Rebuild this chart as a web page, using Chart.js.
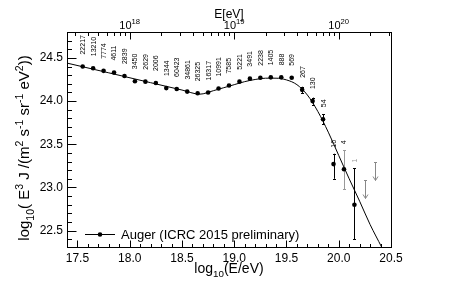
<!DOCTYPE html>
<html>
<head>
<meta charset="utf-8">
<script src="https://cdn.jsdelivr.net/npm/chart.js@4.4.0/dist/chart.umd.min.js"></script>
<style>
  html, body { margin: 0; padding: 0; background: #fff; }
</style>
</head>
<body>
<canvas id="spectrum" width="459" height="291"></canvas>
<script>
// Auger combined spectrum (ICRC 2015 preliminary)

const logE = [17.55, 17.65, 17.75, 17.85, 17.95, 18.05, 18.15, 18.25, 18.35, 18.45,
              18.55, 18.65, 18.75, 18.85, 18.95, 19.05, 19.15, 19.25, 19.35, 19.45,
              19.55, 19.65, 19.75, 19.85, 19.95, 20.05, 20.15];
const fluxE3 = [24.40, 24.38, 24.35, 24.33, 24.29, 24.23, 24.225, 24.21, 24.15, 24.14,
                24.11, 24.09, 24.10, 24.145, 24.18, 24.225, 24.26, 24.27, 24.275, 24.275,
                24.27, 24.13, 24.00, 23.79, 23.27, 23.21, 22.80];
const errUp = [0.004, 0.005, 0.006, 0.008, 0.01, 0.008, 0.009, 0.01, 0.012, 0.003,
               0.004, 0.004, 0.005, 0.006, 0.007, 0.008, 0.01, 0.012, 0.016, 0.02,
               0.025, 0.036, 0.04, 0.06, 0.12, 0.22, 0.42];
const errDown = [0.004, 0.005, 0.006, 0.008, 0.01, 0.008, 0.009, 0.01, 0.012, 0.003,
                 0.004, 0.004, 0.005, 0.006, 0.007, 0.008, 0.01, 0.012, 0.016, 0.02,
                 0.025, 0.036, 0.04, 0.06, 0.17, 0.23, 0.40];
const nEvents = ['22217', '13210', '7774', '4611', '2839', '3450', '2629', '2006', '1344', '60423',
                 '34861', '26325', '16317', '10991', '7585', '5221', '3491', '2238', '1405', '888',
                 '569', '267', '130', '54', '16', '4', '1'];

// 84% C.L. upper limits
const limitE = [20.25, 20.35];
const limitFlux = [23.09, 23.29];

// fitted spectrum
const fitE = [17.4, 17.8, 18.2, 18.5, 18.67, 18.8, 18.9, 19.0, 19.1, 19.2, 19.3, 19.4, 19.5,
              19.6, 19.7, 19.8, 19.9, 20.0, 20.1, 20.2, 20.3, 20.41];
const fitFlux = [24.44, 24.327, 24.213, 24.128, 24.08, 24.12, 24.155, 24.19, 24.225, 24.25, 24.265, 24.265, 24.245,
                 24.19, 24.07, 23.88, 23.64, 23.37, 23.10, 22.84, 22.57, 22.31];

const xTicks = [17.5, 18, 18.5, 19, 19.5, 20, 20.5];
const yTicks = [22.5, 23, 23.5, 24, 24.5];
const topTicks = [1e18, 1e19, 1e20];
const topTickExp = ['18', '19', '20'];

const FONT = '"Liberation Sans", Arial, Helvetica, sans-serif';

function drawRich(ctx, parts, x, y, size, align) {
  const fontOf = p => (p[1] ? size * 0.7 : size) + 'px ' + FONT;
  let w = 0;
  parts.forEach(p => { ctx.font = fontOf(p); w += ctx.measureText(p[0]).width; });
  let cx = align === 'center' ? x - w / 2 : x;
  parts.forEach(p => {
    ctx.font = fontOf(p);
    let dy = 0;
    if (p[1] === 'sup') dy = -size * 0.42;
    if (p[1] === 'sub') dy = size * 0.3;
    ctx.fillText(p[0], cx, y + dy);
    cx += ctx.measureText(p[0]).width;
  });
}

const rootStyle = {
  id: 'rootStyle',
  beforeDatasetsDraw(chart) {
    const ctx = chart.ctx, xs = chart.scales.x, ys = chart.scales.y;
    ctx.save();
    ctx.lineWidth = 1;
    // error bars
    logE.forEach((e, i) => {
      const px = Math.round(xs.getPixelForValue(e)) + 0.5;
      const top = ys.getPixelForValue(fluxE3[i] + errUp[i]);
      const bot = ys.getPixelForValue(fluxE3[i] - errDown[i]);
      if (bot - top < 5) return;
      ctx.strokeStyle = i === 25 ? '#999' : '#000';
      ctx.beginPath();
      ctx.moveTo(px, top); ctx.lineTo(px, bot);
      ctx.moveTo(px - 1.5, Math.round(top) + 0.5); ctx.lineTo(px + 1.5, Math.round(top) + 0.5);
      ctx.moveTo(px - 1.5, Math.round(bot) + 0.5); ctx.lineTo(px + 1.5, Math.round(bot) + 0.5);
      ctx.stroke();
    });
    // upper limits
    ctx.strokeStyle = '#888';
    limitE.forEach((e, i) => {
      const px = Math.round(xs.getPixelForValue(e)) + 0.5;
      const top = Math.round(ys.getPixelForValue(limitFlux[i])) + 0.5;
      const bot = top + 18;
      ctx.beginPath();
      ctx.moveTo(px - 1.5, top); ctx.lineTo(px + 1.5, top);
      ctx.moveTo(px, top); ctx.lineTo(px, bot);
      ctx.moveTo(px - 2.5, bot - 4); ctx.lineTo(px, bot); ctx.lineTo(px + 2.5, bot - 4);
      ctx.stroke();
    });
    ctx.restore();
  },
  afterDraw(chart) {
    const ctx = chart.ctx, a = chart.chartArea;
    const xs = chart.scales.x, ys = chart.scales.y, xt = chart.scales.x2;
    ctx.save();
    ctx.strokeStyle = '#000';
    ctx.fillStyle = '#000';
    ctx.lineWidth = 1;
    const L = Math.round(a.left) + 0.5, R = Math.round(a.right) + 0.5;
    const T = Math.round(a.top) + 0.5, B = Math.round(a.bottom) + 0.5;
    ctx.strokeRect(L, T, R - L, B - T);

    ctx.beginPath();
    // bottom axis ticks
    for (let k = 0; k <= 31; k++) {
      const v = 17.4 + k * 0.1;
      const px = Math.round(xs.getPixelForValue(v)) + 0.5;
      const major = Math.abs(v * 2 - Math.round(v * 2)) < 1e-6;
      ctx.moveTo(px, B); ctx.lineTo(px, B - (major ? 7 : 3.5));
    }
    // left axis ticks
    for (let k = 0; k <= 25; k++) {
      const v = 22.4 + k * 0.1;
      if (v > 24.8) break;
      const py = Math.round(ys.getPixelForValue(v)) + 0.5;
      const major = Math.abs(v * 2 - Math.round(v * 2)) < 1e-6;
      ctx.moveTo(L, py); ctx.lineTo(L + (major ? 9 : 4.5), py);
    }
    // top (energy) axis ticks
    for (let d = 17; d <= 20; d++) {
      for (let m = 1; m <= 9; m++) {
        const v = m * Math.pow(10, d);
        if (v < xt.min || v > xt.max) continue;
        const px = Math.round(xt.getPixelForValue(v)) + 0.5;
        ctx.moveTo(px, T); ctx.lineTo(px, T + (m === 1 ? 7 : 3.5));
      }
    }
    ctx.stroke();

    // top axis labels
    ctx.textBaseline = 'alphabetic';
    topTicks.forEach((v, i) => {
      const px = xt.getPixelForValue(v);
      drawRich(ctx, [['10', ''], [topTickExp[i], 'sup']], px, 29, 11, 'center');
    });
    ctx.font = '12px ' + FONT;
    ctx.textAlign = 'center';
    ctx.fillText('E[eV]', (a.left + a.right) / 2, 18);
    ctx.textAlign = 'left';

    // axis titles
    drawRich(ctx, [['log', ''], ['10', 'sub'], ['(E/eV)', '']], 229, 273, 14, 'center');
    ctx.save();
    ctx.translate(29, 148);
    ctx.rotate(-Math.PI / 2);
    drawRich(ctx, [['log', ''], ['10', 'sub'], ['( E', ''], ['3', 'sup'], [' J /(m', ''], ['2', 'sup'],
                   [' s', ''], ['-1', 'sup'], [' sr', ''], ['-1', 'sup'], [' eV', ''], ['2', 'sup'], ['))', '']],
             0, 0, 15, 'center');
    ctx.restore();

    // event counts above each point
    ctx.font = '7px ' + FONT;
    ctx.textBaseline = 'middle';
    logE.forEach((e, i) => {
      const px = xs.getPixelForValue(e) + 0.5;
      const pc = ys.getPixelForValue(fluxE3[i]);
      const pt = ys.getPixelForValue(fluxE3[i] + errUp[i]);
      const base = Math.min(pc - 12, pt - 6);
      ctx.save();
      ctx.translate(px, base);
      ctx.rotate(-Math.PI / 2);
      ctx.fillStyle = i === 26 ? '#999' : '#000';
      ctx.fillText(nEvents[i], 0, 0);
      ctx.restore();
    });

    // legend
    ctx.beginPath();
    ctx.moveTo(85, 234.5); ctx.lineTo(115, 234.5);
    ctx.stroke();
    ctx.beginPath();
    ctx.arc(100, 234.5, 2.3, 0, Math.PI * 2);
    ctx.fill();
    ctx.font = '13px ' + FONT;
    ctx.textBaseline = 'middle';
    ctx.fillText(chart.data.datasets[1].label, 121, 235);
    ctx.restore();
  }
};

const ctx = document.getElementById('spectrum').getContext('2d');
new Chart(ctx, {
  type: 'scatter',
  data: {
    datasets: [{
      label: 'fit',
      data: fitE.map((x, i) => ({ x: x, y: fitFlux[i] })),
      showLine: true,
      borderColor: '#000',
      borderWidth: 1,
      pointRadius: 0,
      cubicInterpolationMode: 'monotone',
      order: 2
    }, {
      label: 'Auger (ICRC 2015 preliminary)',
      data: logE.map((x, i) => ({ x: x, y: fluxE3[i] })),
      showLine: false,
      pointRadius: 2.3,
      pointBackgroundColor: '#000',
      pointBorderWidth: 0,
      order: 1
    }]
  },
  options: {
    responsive: false,
    animation: false,
    layout: { padding: { left: 0, right: 68, top: 0, bottom: 0 } },
    plugins: { legend: { display: false }, tooltip: { enabled: false } },
    scales: {
      x: {
        type: 'linear', position: 'bottom', min: 17.4, max: 20.5, bounds: 'data',
        grid: { display: false, drawTicks: false }, border: { display: false },
        ticks: { color: '#000', font: { family: FONT, size: 12 }, padding: 4, maxRotation: 0, autoSkip: false },
        afterBuildTicks: s => { s.ticks = xTicks.map(v => ({ value: v })); },
        afterFit: s => { s.height = 44; }
      },
      x2: {
        type: 'logarithmic', position: 'top', min: Math.pow(10, 17.4), max: Math.pow(10, 20.5), bounds: 'data',
        grid: { display: false, drawTicks: false }, border: { display: false },
        ticks: { display: false },
        afterFit: s => { s.height = 32; }
      },
      y: {
        type: 'linear', position: 'left', min: 22.31, max: 24.8, bounds: 'data',
        grid: { display: false, drawTicks: false }, border: { display: false },
        ticks: { color: '#000', font: { family: FONT, size: 12 }, padding: 4 },
        afterBuildTicks: s => { s.ticks = yTicks.map(v => ({ value: v })); },
        afterFit: s => { s.width = 67; }
      }
    }
  },
  plugins: [rootStyle]
});
</script>
</body>
</html>
